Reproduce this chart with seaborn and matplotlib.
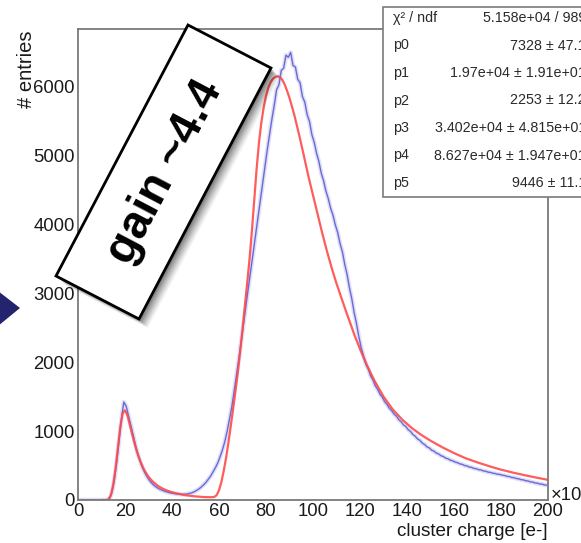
import numpy as np
import pandas as pd
import seaborn as sns
import matplotlib.pyplot as plt
from matplotlib.patches import Polygon, Rectangle
from matplotlib.ticker import MultipleLocator

# ---- data -------------------------------------------------------------
# cluster-charge histogram, 1 bin per 10^3 e- from 0 to 200
bin_width = 1.0
counts = [
    0, 0, 0, 0, 0, 0, 0, 0, 0, 0,
    0, 0, 0, 25, 120, 300, 560, 870, 1180, 1420,
    1360, 1220, 1080, 940, 790, 660, 555, 465, 390, 330,
    280, 240, 208, 182, 162, 146, 132, 120, 110, 101,
    95, 90, 86, 83, 82, 84, 88, 95, 105, 120,
    140, 162, 190, 222, 258, 305, 350, 410, 470, 540,
    630, 730, 850, 1000, 1180, 1360, 1590, 1830, 2060, 2310,
    2570, 2830, 3080, 3330, 3580, 3830, 4080, 4330, 4580, 4830,
    5070, 5300, 5520, 5720, 5950, 6020, 6230, 6260, 6450, 6420,
    6490, 6300, 6280, 6100, 6050, 5850, 5770, 5590, 5490, 5300,
    5190, 5030, 4910, 4740, 4630, 4480, 4370, 4230, 4130, 3990,
    3880, 3720, 3600, 3420, 3270, 3080, 2920, 2720, 2560, 2370,
    2210, 2090, 1970, 1900, 1800, 1740, 1655, 1605, 1535, 1490,
    1425, 1385, 1330, 1295, 1245, 1215, 1165, 1135, 1090, 1065,
    1020, 995, 950, 925, 885, 865, 825, 805, 770, 755,
    722, 708, 680, 667, 641, 630, 606, 597, 576, 568,
    550, 541, 524, 517, 500, 494, 478, 473, 458, 453,
    440, 435, 421, 417, 404, 401, 388, 385, 373, 371,
    360, 356, 343, 340, 327, 324, 311, 308, 295, 292,
    280, 276, 263, 260, 247, 244, 232, 230, 218, 216,
]

# fitted function, sampled along the charge axis
fit_charge = [10, 12, 13, 14, 15, 16, 17, 18, 19, 20, 21, 22, 23, 24, 25, 26, 27, 28,
              30, 32, 34, 36, 38, 40, 43, 46, 50, 54, 57, 58, 59, 60, 61, 62, 63, 64,
              65, 66, 67, 68, 69, 70, 71, 72, 73, 74, 75, 76, 77, 78, 79, 80, 81, 82,
              83, 84, 85, 86, 87, 88, 89, 90, 92, 94, 96, 98, 100, 102, 104, 106, 108,
              110, 112, 114, 116, 118, 120, 123, 126, 130, 134, 138, 142, 146, 150,
              155, 160, 165, 170, 175, 180, 185, 190, 195, 200]
fit_entries = [0, 0, 10, 70, 220, 460, 760, 1060, 1260, 1300, 1230, 1100, 960, 830, 710, 610, 520, 445,
               335, 260, 205, 165, 135, 112, 87, 68, 52, 42, 40, 45, 70, 140, 260, 420, 610, 830,
               1070, 1320, 1580, 1850, 2150, 2470, 2810, 3150, 3500, 3900, 4350, 4800, 5180, 5470, 5690, 5860, 5980, 6060,
               6110, 6135, 6145, 6130, 6090, 6020, 5930, 5830, 5590, 5310, 5010, 4700, 4420, 4140, 3860, 3600, 3360,
               3140, 2940, 2740, 2550, 2360, 2190, 1950, 1740, 1500, 1310, 1165, 1045, 945, 860,
               765, 680, 605, 545, 490, 440, 398, 360, 325, 292]

stat_names = ["\u03c7\u00b2 / ndf", "p0", "p1", "p2", "p3", "p4", "p5"]
stat_values = ["5.158e+04 / 989", "7328 \u00b1 47.1", "1.97e+04 \u00b1 1.91e+01",
               "2253 \u00b1 12.2", "3.402e+04 \u00b1 4.815e+01",
               "8.627e+04 \u00b1 1.947e+01", "9446 \u00b1 11.1"]

x_ticks = [0, 20, 40, 60, 80, 100, 120, 140, 160, 180, 200]
y_ticks = [0, 1000, 2000, 3000, 4000, 5000, 6000]

# ---- figure -----------------------------------------------------------
sns.set_theme(style="white")
plt.rcParams['font.family'] = ['Liberation Sans', 'DejaVu Sans']

W, H = 581, 543
fig = plt.figure(figsize=(W / 100, H / 100), dpi=100)
fig.patch.set_facecolor('white')


def px(x, y):
    """pixel position (origin top-left) -> figure fraction"""
    return (x / W, 1 - y / H)


ax = fig.add_axes([78 / W, 1 - 500 / H, (548 - 78) / W, (500 - 29) / H])
ax.set_facecolor('white')

hist_df = pd.DataFrame({
    'charge': np.arange(len(counts)) * bin_width + bin_width / 2,
    'entries': counts,
})
fit_df = pd.DataFrame({'charge': fit_charge, 'entries': fit_entries})

# soft halo standing in for the per-bin error bars
sns.lineplot(data=hist_df, x='charge', y='entries', ax=ax,
             color='#7070e0', lw=3.2, alpha=0.22, legend=False)
sns.lineplot(data=hist_df, x='charge', y='entries', ax=ax,
             color='#4d4dcc', lw=1.0, alpha=0.8, legend=False)
sns.lineplot(data=fit_df, x='charge', y='entries', ax=ax,
             color='#ff4a4a', lw=1.6, alpha=0.9, legend=False)

ax.set_xlim(0, 200)
ax.set_ylim(0, 6830)
ax.set_xticks(x_ticks)
ax.set_yticks(y_ticks)
ax.xaxis.set_minor_locator(MultipleLocator(4))
ax.yaxis.set_minor_locator(MultipleLocator(200))
ax.set_xlabel('')
ax.set_ylabel('')

axis_grey = '#7a7a7a'
for s in ax.spines.values():
    s.set_color(axis_grey)
    s.set_linewidth(1.3)
ax.tick_params(which='both', direction='in', color=axis_grey, width=1.0,
               top=False, right=False, labelsize=13.3, labelcolor='#1a1a1a')
ax.tick_params(which='major', length=8.5)
ax.tick_params(which='minor', length=4.3)
ax.tick_params(axis='x', which='major', pad=2.5)
ax.tick_params(axis='y', which='major', pad=2.5)

# axis titles in ROOT placement
fig.text(*px(27, 30), '# entries', rotation=90, ha='center', va='top',
         fontsize=14.5, color='#1a1a1a')
fig.text(*px(548, 531), 'cluster charge [e-]', ha='right', va='center',
         fontsize=13.6, color='#1a1a1a')
fig.text(*px(551, 495), '\u00d710\u00b3', ha='left', va='center',
         fontsize=13.3, color='#1a1a1a')

# fit statistics box
fig.add_artist(Rectangle(px(383, 197), (230) / W, (197 - 7) / H,
                         transform=fig.transFigure, facecolor='white',
                         edgecolor=axis_grey, lw=1.2, zorder=5))
for i, (name, val) in enumerate(zip(stat_names, stat_values)):
    yy = 18 + 27.5 * i
    fig.text(*px(393, yy), name, ha='left', va='center', fontsize=10.3,
             color='#2a2a2a', zorder=6)
    fig.text(*px(586, yy), val, ha='right', va='center', fontsize=10.3,
             color='#2a2a2a', zorder=6)

# navy pointer on the left edge
fig.add_artist(Polygon([px(-2, 291), px(20, 308), px(-2, 326)], closed=True,
                       transform=fig.transFigure, facecolor='#23236e',
                       edgecolor='none', zorder=5))

# rotated annotation label with drop shadow
corners = [(188, 25), (271, 68), (139, 319), (56, 276)]
for k, a in zip(range(9, 1, -1), [0.04, 0.05, 0.06, 0.07, 0.08, 0.09, 0.10, 0.12]):
    fig.add_artist(Polygon([px(x + k, y + k) for x, y in corners], closed=True,
                           transform=fig.transFigure, facecolor='black',
                           edgecolor='none', alpha=a, zorder=6))
fig.add_artist(Polygon([px(x, y) for x, y in corners], closed=True,
                       transform=fig.transFigure, facecolor='white',
                       edgecolor='black', lw=2.0, zorder=7))
fig.text(*px(165, 172), 'gain ~4.4', rotation=62.3, rotation_mode='anchor',
         ha='center', va='center', fontsize=33.5, fontweight='bold',
         color='black', zorder=8)

fig.savefig('out.png', dpi=100)
